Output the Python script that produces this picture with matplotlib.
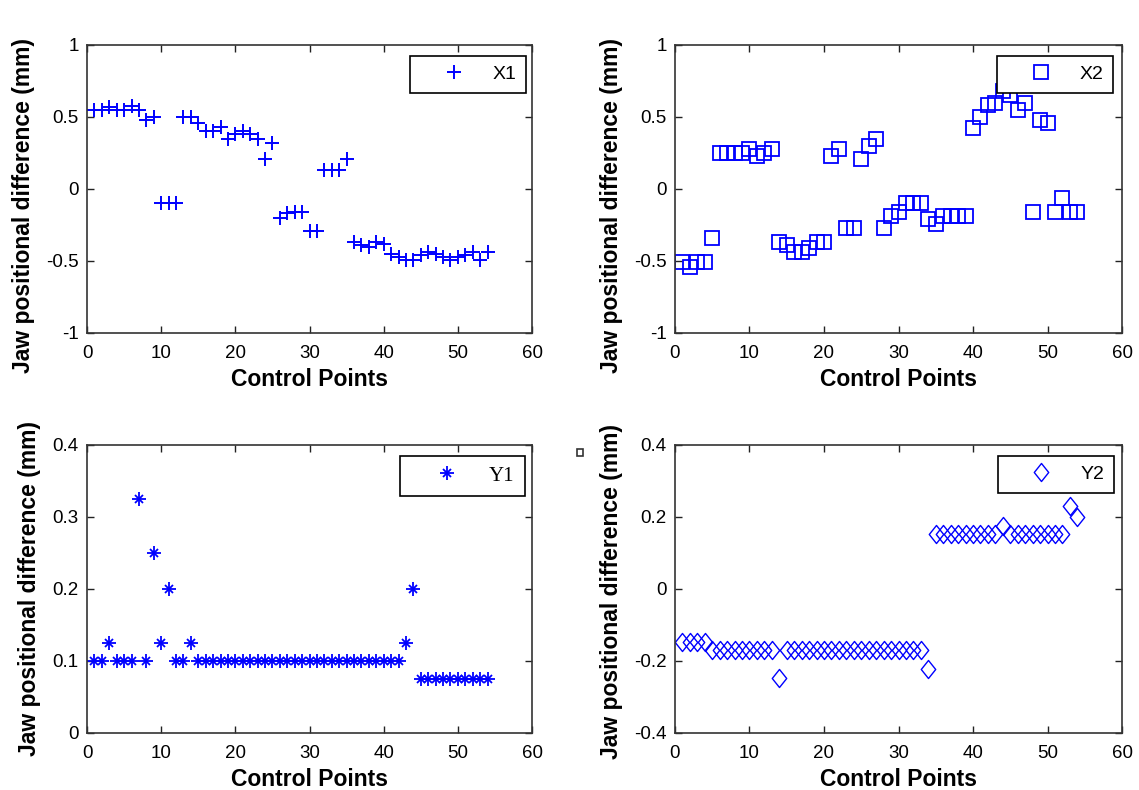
import numpy as np
import matplotlib
matplotlib.use("Agg")
import matplotlib.pyplot as plt
from matplotlib.path import Path
from matplotlib.patches import Rectangle
from matplotlib.legend_handler import HandlerTuple

plt.rcParams['font.family'] = ['Liberation Sans', 'DejaVu Sans']

# control point index 1..54
cp = np.arange(1, 55)

x1 = [0.55, 0.55, 0.57, 0.55, 0.55, 0.575, 0.55, 0.48, 0.5, -0.1,
      -0.1, -0.1, 0.5, 0.5, 0.46, 0.40, 0.40, 0.43, 0.35, 0.38,
      0.40, 0.38, 0.35, 0.21, 0.32, -0.2, -0.17, -0.16, -0.16, -0.29,
      -0.29, 0.13, 0.13, 0.13, 0.21, -0.37, -0.39, -0.40, -0.37, -0.38,
      -0.45, -0.47, -0.49, -0.49, -0.46, -0.44, -0.45, -0.47, -0.49, -0.47,
      -0.46, -0.44, -0.49, -0.44]

x2 = [-0.51, -0.54, -0.51, -0.51, -0.34, 0.25, 0.25, 0.25, 0.25, 0.28,
      0.23, 0.25, 0.28, -0.37, -0.39, -0.44, -0.44, -0.41, -0.37, -0.37,
      0.23, 0.28, -0.27, -0.27, 0.21, 0.30, 0.35, -0.27, -0.19, -0.16,
      -0.1, -0.1, -0.1, -0.21, -0.24, -0.19, -0.19, -0.19, -0.19, 0.42,
      0.5, 0.58, 0.6, 0.68, 0.65, 0.55, 0.6, -0.16, 0.48, 0.46,
      -0.16, -0.065, -0.16, -0.16]

y1 = ([0.1, 0.1, 0.125, 0.1, 0.1, 0.1, 0.325, 0.1, 0.25, 0.125,
       0.2, 0.1, 0.1, 0.125] + [0.1] * 28 + [0.125, 0.2] + [0.075] * 10)

y2 = ([-0.146] * 4 + [-0.17] * 9 + [-0.248] + [-0.17] * 19 + [-0.222]
      + [0.152] * 9 + [0.175] + [0.152] * 8 + [0.229, 0.2])

blue = '#0000ff'

fig = plt.figure(figsize=(11.39, 7.9), dpi=100)
axs = [fig.add_axes([0.0764, 0.5785, 0.3907, 0.3646]),
       fig.add_axes([0.5926, 0.5785, 0.3925, 0.3646]),
       fig.add_axes([0.0764, 0.0722, 0.3907, 0.3646]),
       fig.add_axes([0.5926, 0.0722, 0.3925, 0.3646])]

diamond = Path([(0, 1), (0.8, 0), (0, -1), (-0.8, 0), (0, 1)],
               [Path.MOVETO, Path.LINETO, Path.LINETO, Path.LINETO, Path.CLOSEPOLY])

ax = axs[0]
ax.plot(cp, x1, ls='none', marker='+', ms=10, mew=1.4, color=blue, label='X1')
ax = axs[1]
ax.plot(cp, x2, ls='none', marker='s', ms=9.5, mew=1.3, mfc='none', mec=blue, label='X2')
ax = axs[2]
h1, = ax.plot(cp, y1, ls='none', marker='+', ms=10, mew=1.3, color=blue)
h2, = ax.plot(cp, y1, ls='none', marker='x', ms=6, mew=1.3, color=blue)
ax = axs[3]
ax.plot(cp, y2, ls='none', marker=diamond, ms=13, mew=1.0, mfc='none', mec=blue, label='Y2')

ylims = [(-1, 1), (-1, 1), (0, 0.4), (-0.4, 0.4)]
yticks = [[-1, -0.5, 0, 0.5, 1], [-1, -0.5, 0, 0.5, 1],
          [0, 0.1, 0.2, 0.3, 0.4], [-0.4, -0.2, 0, 0.2, 0.4]]
ylabs = [['-1', '-0.5', '0', '0.5', '1'], ['-1', '-0.5', '0', '0.5', '1'],
         ['0', '0.1', '0.2', '0.3', '0.4'], ['-0.4', '-0.2', '0', '0.2', '0.4']]
ylab_y = [0.444, 0.444, 0.5, 0.49]

for i, ax in enumerate(axs):
    ax.set_xlim(0, 60)
    ax.set_ylim(*ylims[i])
    ax.set_xticks(range(0, 61, 10))
    ax.set_yticks(yticks[i])
    ax.set_yticklabels(ylabs[i])
    ax.tick_params(direction='in', top=True, right=True, length=5, width=1,
                   labelsize=13.5, colors='#222222', labelcolor='black')
    ax.tick_params(axis='x', pad=9)
    ax.tick_params(axis='y', pad=6)
    for s in ax.spines.values():
        s.set_linewidth(1.2)
        s.set_color('#333333')
    ax.set_xlabel('Control Points', fontsize=16.5, fontweight='bold', labelpad=4)
    ax.set_ylabel('Jaw positional difference (mm)', fontsize=16.5, fontweight='bold', labelpad=8)
    ax.yaxis.label.set_y(ylab_y[i])

leg_kw = dict(loc='upper right', fancybox=False, edgecolor='black', framealpha=1,
              borderaxespad=0, borderpad=0.5, handletextpad=0.25)
anchors = [(0.9865, 0.963), (0.98, 0.963), (0.984, 0.963), (0.982, 0.963)]
for i in (0, 1, 3):
    lg = axs[i].legend(bbox_to_anchor=anchors[i], fontsize=14, handlelength=3.5, **leg_kw)
    lg.get_frame().set_linewidth(1.2)

lg = axs[2].legend([(h1, h2)], ['Y1'], handler_map={tuple: HandlerTuple(ndivide=1, pad=0)},
                   bbox_to_anchor=anchors[2], handlelength=3.5,
                   prop={'family': 'Liberation Serif', 'size': 15}, **leg_kw)
lg.get_frame().set_linewidth(1.2)

# small stray square in the original image
fig.patches.append(Rectangle((0.5063, 0.4228), 0.0058, 0.0085, transform=fig.transFigure,
                             fill=False, edgecolor='#333333', linewidth=1.2))

fig.savefig('out.png', dpi=100)
